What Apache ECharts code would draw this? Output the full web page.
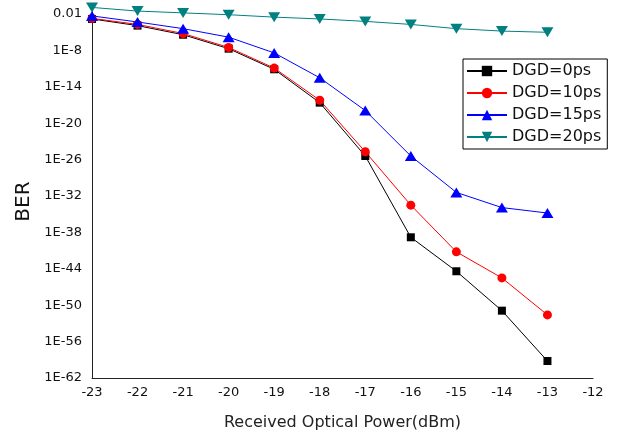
<!DOCTYPE html>
<html>
<head>
<meta charset="utf-8">
<script src="https://cdn.jsdelivr.net/npm/echarts@6/dist/echarts.min.js"></script>
<style>
  html, body { margin: 0; padding: 0; background: #fff; }
  #chart { width: 619px; height: 436px; }
</style>
</head>
<body>
<div id="chart"></div>
<script>
// received optical power, dBm
const power = [-23, -22, -21, -20, -19, -18, -17, -16, -15, -14, -13]

// BER as log10 exponents
const dgd0 = [-2.8, -3.9, -5.4, -7.7, -11.1, -16.6, -25.4, -38.8, -44.4, -50.9, -59.2]
const dgd10 = [-2.7, -3.7, -5.2, -7.5, -10.9, -16.2, -24.7, -33.5, -41.2, -45.5, -51.6]
const dgd15 = [-2.3, -3.3, -4.4, -5.8, -8.4, -12.5, -17.9, -25.4, -31.4, -33.9, -34.8]
const dgd20 = [-0.9, -1.5, -1.8, -2.1, -2.5, -2.8, -3.2, -3.7, -4.4, -4.8, -5.0]

const seriesNames = ['DGD=0ps', 'DGD=10ps', 'DGD=15ps', 'DGD=20ps']

const chart = echarts.init(document.getElementById('chart'))

function pairs(vals) {
  return power.map((p, i) => [p, vals[i]])
}

function makeSeries(name, vals, color, symbol, size, rotate) {
  return {
    name,
    type: 'line',
    data: pairs(vals),
    symbol,
    symbolSize: size,
    symbolRotate: rotate || 0,
    lineStyle: { color, width: 1 },
    itemStyle: { color },
    emphasis: { disabled: true }
  }
}

const option = {
  animation: false,
  grid: { left: 92, right: 26, top: 5, bottom: 58 },
  legend: {
    orient: 'vertical',
    left: 463,
    top: 59,
    padding: [3, 6, 3, 3],
    itemWidth: 40,
    itemHeight: 13,
    itemGap: 4,
    itemTextGap: 4,
    borderColor: '#000',
    borderWidth: 1,
    borderRadius: 0,
    textStyle: { fontFamily: 'DejaVu Sans', fontSize: 16, lineHeight: 18, color: '#111' },
    data: seriesNames
  },
  xAxis: {
    type: 'value',
    min: -23,
    max: -12,
    interval: 1,
    name: 'Received Optical Power(dBm)',
    nameLocation: 'middle',
    nameGap: 37,
    nameTextStyle: { fontFamily: 'DejaVu Sans', fontSize: 16, color: '#222' },
    axisLine: { onZero: false, lineStyle: { color: '#222', width: 1 } },
    axisTick: { show: false },
    splitLine: { show: false },
    axisLabel: { fontFamily: 'DejaVu Sans', fontSize: 13, color: '#111', margin: 8 }
  },
  yAxis: {
    type: 'value',
    min: -62,
    max: -0.5,
    interval: 6,
    name: 'BER',
    nameLocation: 'middle',
    nameGap: 58,
    nameTextStyle: { fontFamily: 'DejaVu Sans', fontSize: 20, color: '#111', padding: [0, 20, 0, 0] },
    axisLine: { show: true, onZero: false, lineStyle: { color: '#222', width: 1 } },
    axisTick: { show: false },
    splitLine: { show: false },
    axisLabel: {
      fontFamily: 'DejaVu Sans',
      fontSize: 13,
      color: '#111',
      margin: 10,
      showMaxLabel: false,
      formatter: v => (v === -2 ? '0.01' : '1E' + v)
    }
  },
  series: [
    makeSeries(seriesNames[0], dgd0, '#000000', 'rect', 8),
    makeSeries(seriesNames[1], dgd10, '#ff0000', 'circle', 9),
    makeSeries(seriesNames[2], dgd15, '#0000ff', 'triangle', [12, 10]),
    makeSeries(seriesNames[3], dgd20, '#008080', 'triangle', [12, 10], 180)
  ]
}

chart.setOption(option)
</script>
</body>
</html>
